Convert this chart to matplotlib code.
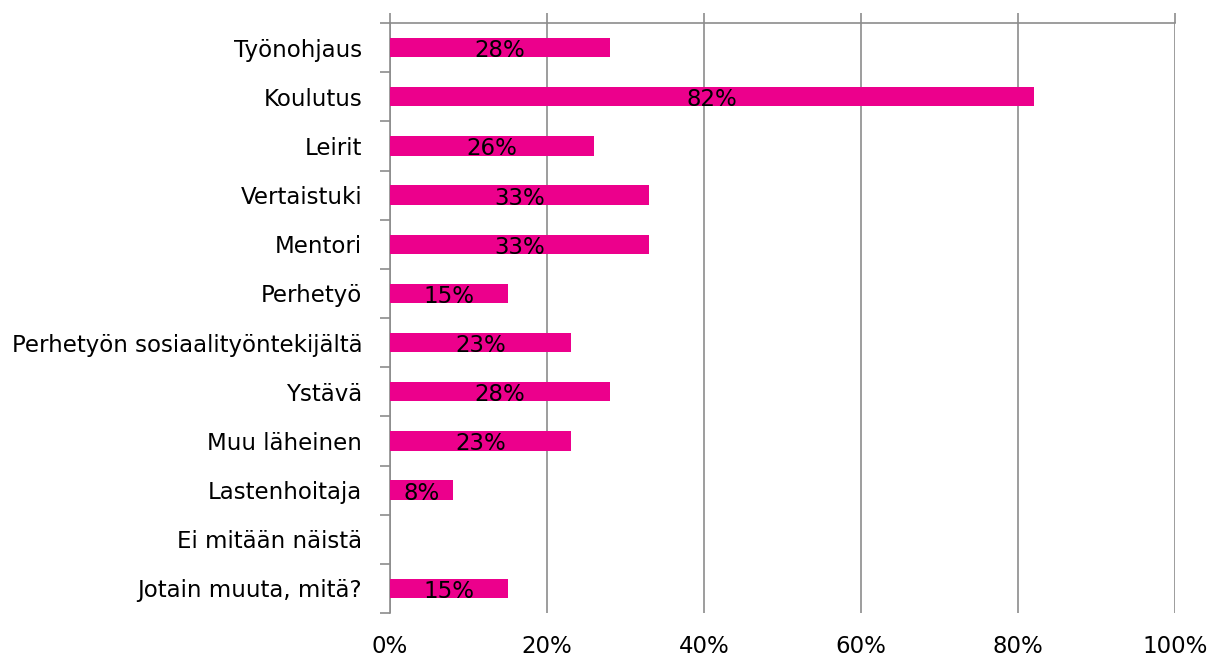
import matplotlib.pyplot as plt
import numpy as np

categories = [
    "Työnohjaus", "Koulutus", "Leirit", "Vertaistuki", "Mentori", "Perhetyö",
    "Perhetyön sosiaalityöntekijältä", "Ystävä", "Muu läheinen",
    "Lastenhoitaja", "Ei mitään näistä", "Jotain muuta, mitä?",
]
values = [28, 82, 26, 33, 33, 15, 23, 28, 23, 8, 0, 15]
xticks = [0, 20, 40, 60, 80, 100]

C_BAR = "#EC008C"
C_GRID = "#8C8C8C"

fig = plt.figure(figsize=(12.1, 6.59), dpi=100, facecolor="white")
ax = fig.add_axes([390 / 1210, 1 - 613 / 659, 785 / 1210, 590 / 659])

n = len(categories)
y = np.arange(n)
ax.barh(y, values, height=0.39, color=C_BAR, zorder=3)
for yi, v in zip(y, values):
    if v > 0:
        ax.text(v / 2, yi + 0.06, f"{v}%", ha="center", va="center",
                fontsize=16.5, color="black", zorder=4)

ax.set_ylim(n - 0.5, -0.5)
ax.set_xlim(0, 100)
ax.set_yticks(y)
ax.set_yticklabels(categories, fontsize=16.5)
ax.set_yticks(np.arange(n + 1) - 0.5, minor=True)
ax.tick_params(axis="y", which="major", length=0, pad=20)
ax.tick_params(axis="y", which="minor", length=7, width=1.2, color=C_GRID,
               direction="out")

ax.set_xticks(xticks)
ax.set_xticklabels([f"{t}%" for t in xticks], fontsize=16.5)
ax.tick_params(axis="x", top=True, bottom=False, labeltop=False,
               labelbottom=True, length=7, width=1.2, color=C_GRID,
               direction="out", pad=9)

ax.grid(axis="x", color=C_GRID, lw=1.2, zorder=0)
for s in ["right", "bottom"]:
    ax.spines[s].set_visible(False)
for s in ["left", "top"]:
    ax.spines[s].set_color(C_GRID)
    ax.spines[s].set_linewidth(1.2)

fig.savefig("out.png", dpi=100, facecolor="white")
